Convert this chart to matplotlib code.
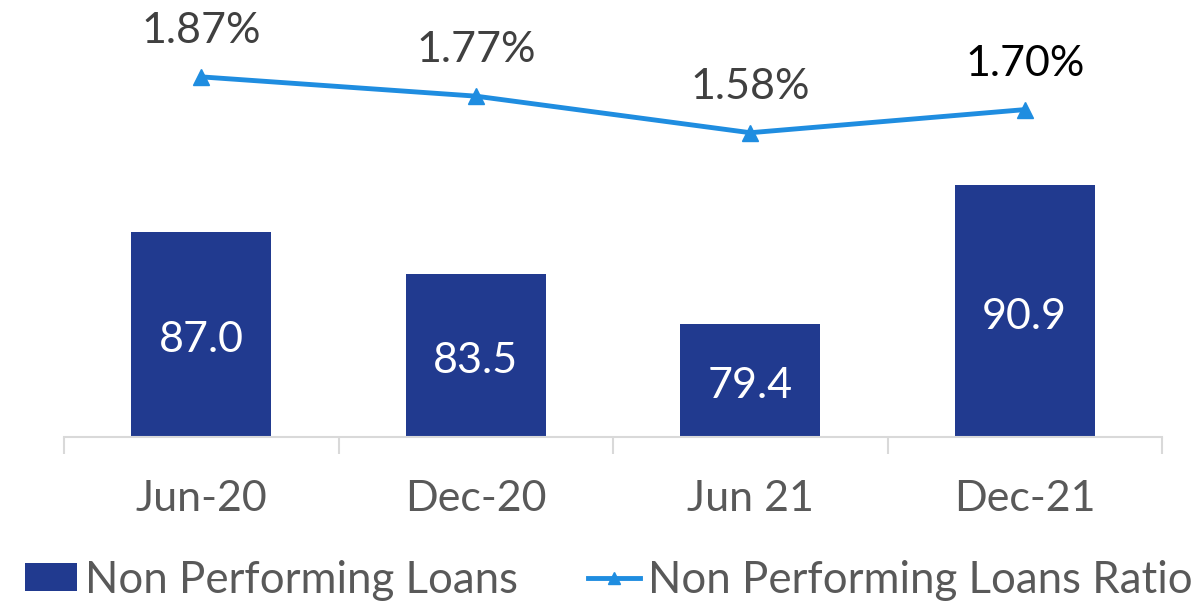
import numpy as np
import matplotlib
matplotlib.use("Agg")
import matplotlib.pyplot as plt
from matplotlib.lines import Line2D
from matplotlib.patches import Patch

plt.rcParams['font.family'] = ['Lato', 'DejaVu Sans']

# data
periods = ['Jun-20', 'Dec-20', 'Jun 21', 'Dec-21']
npl = [87.0, 83.5, 79.4, 90.9]
npl_ratio = [1.87, 1.77, 1.58, 1.70]
ratio_label_colors = ['#404040', '#404040', '#404040', '#000000']

bar_color = '#213A8F'
line_color = '#1F8DE0'
axis_gray = '#D9D9D9'
text_gray = '#595959'

fig = plt.figure(figsize=(12.03, 6.03), dpi=100)
ax = fig.add_axes([64 / 1203, 166 / 603, (1162 - 64) / 1203, 417 / 603])
x = np.arange(len(periods))

ax.bar(x, npl, width=0.51, color=bar_color, zorder=2)
ax.set_ylim(70, 70 + 417 / 12.05)
ax.set_xlim(-0.5, len(periods) - 0.5)

for xi, v in zip(x, npl):
    ax.annotate(f'{v:.1f}', (xi, (70 + v) / 2), xytext=(0, -4),
                textcoords='offset points', ha='center', va='center',
                color='white', fontsize=31)

# secondary axis for the ratio
ax2 = ax.twinx()
ax2.plot(x, npl_ratio, color=line_color, linewidth=3.5, marker='^',
         markersize=11, zorder=3)
ax2.set_ylim(0, 1.87 + 57 / 193)
for xi, r, c in zip(x, npl_ratio, ratio_label_colors):
    ax2.annotate(f'{r:.2f}%', (xi, r), xytext=(0, 33), textcoords='offset points',
                 ha='center', va='center', fontsize=31, color=c)

for a in (ax, ax2):
    for s in ('top', 'right', 'left'):
        a.spines[s].set_visible(False)
    a.set_yticks([])
ax2.spines['bottom'].set_visible(False)
ax.spines['bottom'].set_color(axis_gray)
ax.spines['bottom'].set_linewidth(1.5)

ax.set_xticks(x)
ax.set_xticklabels(periods, fontsize=31, color=text_gray)
ax.set_xticks(np.arange(-0.5, len(periods), 1), minor=True)
ax.tick_params(axis='x', which='major', length=0, pad=31)
ax.tick_params(axis='x', which='minor', length=12, width=1.5, color=axis_gray)

handles = [Patch(facecolor=bar_color, edgecolor='none'),
           Line2D([0], [0], color=line_color, linewidth=3.5, marker='^', markersize=9)]
fig.legend(handles, ['Non Performing Loans', 'Non Performing Loans Ratio'],
           loc='center', bbox_to_anchor=(0.506, 0.038), ncol=2, frameon=False,
           fontsize=31.5, labelcolor=text_gray, handlelength=1.2, handletextpad=0.18,
           columnspacing=1.6, handleheight=0.6, borderpad=0, borderaxespad=0)

fig.savefig('out.png', dpi=100)
